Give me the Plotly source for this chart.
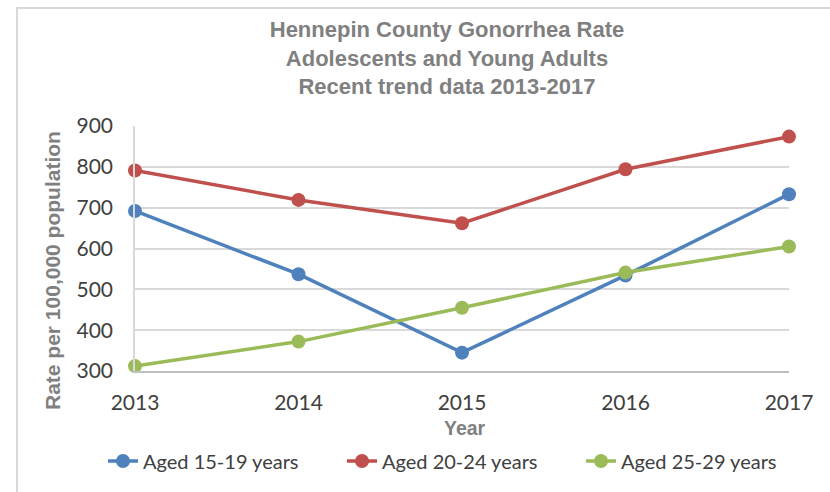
import plotly.graph_objects as go

years = [2013, 2014, 2015, 2016, 2017]
aged_15_19 = [692, 537, 345, 534, 733]
aged_20_24 = [791, 719, 662, 794, 874]
aged_25_29 = [312, 372, 455, 541, 605]
series_names = ["Aged 15-19 years", "Aged 20-24 years", "Aged 25-29 years"]
colors = ["#4f81bd", "#c0504d", "#9bbb59"]
y_ticks = [300, 400, 500, 600, 700, 800, 900]
title_lines = ["Hennepin County Gonorrhea Rate", "Adolescents and Young Adults", "Recent trend data 2013-2017"]

fig = go.Figure()
for name, vals, col in zip(series_names, [aged_15_19, aged_20_24, aged_25_29], colors):
    fig.add_trace(go.Scatter(
        x=years, y=vals, name=name, mode="lines+markers",
        line=dict(color=col, width=3.5),
        marker=dict(color=col, size=14),
        cliponaxis=False,
    ))

gray = "#808080"
bold_font = "Liberation Sans, Arial, sans-serif"
fig.update_layout(
    width=830, height=492,
    margin=dict(l=135, r=41, t=126, b=121, autoexpand=False),
    paper_bgcolor="white", plot_bgcolor="white",
    showlegend=True,
    font=dict(family="Lato, Liberation Sans, sans-serif", color="#404040"),
    title=dict(
        text="<br>".join("<b>%s</b>" % t for t in title_lines),
        x=447 / 830, xanchor="center", y=1 - 37 / 492, yanchor="middle",
        xref="container", yref="container",
        font=dict(family=bold_font, size=22, color=gray),
    ),
    xaxis=dict(
        range=[2013, 2017], tickvals=years, ticktext=[str(y) for y in years],
        showgrid=False, zeroline=False, showline=True, linecolor="#bfbfbf", linewidth=1.5,
        tickfont=dict(size=21, color="#404040"), ticks="", ticklabelstandoff=12,
    ),
    yaxis=dict(
        range=[300, 900], tickvals=y_ticks, showgrid=True, gridcolor="#d9d9d9", gridwidth=1.5,
        zeroline=False, showline=True, linecolor="#d9d9d9", linewidth=1.5,
        tickfont=dict(size=21, color="#404040"), ticks="", ticklabelstandoff=16,
    ),
    legend=dict(
        orientation="h", x=(103 - 135) / 654, xanchor="left",
        y=(371 - 461) / 245, yanchor="middle",
        font=dict(size=20, color="#404040"),
        entrywidth=194, entrywidthmode="pixels",
        bgcolor="rgba(0,0,0,0)",
    ),
    annotations=[
        dict(text="<b>Rate per 100,000 population</b>", textangle=-90,
             x=(52 - 135) / 654, y=(371 - 271) / 245, xref="paper", yref="paper",
             xanchor="center", yanchor="middle", showarrow=False,
             font=dict(family=bold_font, size=21, color=gray)),
        dict(text="<b>Year</b>",
             x=(465 - 135) / 654, y=(371 - 428) / 245, xref="paper", yref="paper",
             xanchor="center", yanchor="middle", showarrow=False,
             font=dict(family=bold_font, size=19.5, color=gray)),
    ],
    shapes=[
        dict(type="rect", xref="paper", yref="paper",
             x0=(17 - 135) / 654, x1=(860 - 135) / 654,
             y0=(371 - 520) / 245, y1=(371 - 8) / 245,
             line=dict(color="#d9d9d9", width=2), fillcolor="rgba(0,0,0,0)", layer="below"),
    ],
)

fig.write_html("out.html", config={"displayModeBar": False},
               post_script="document.body.style.margin='0px';")
